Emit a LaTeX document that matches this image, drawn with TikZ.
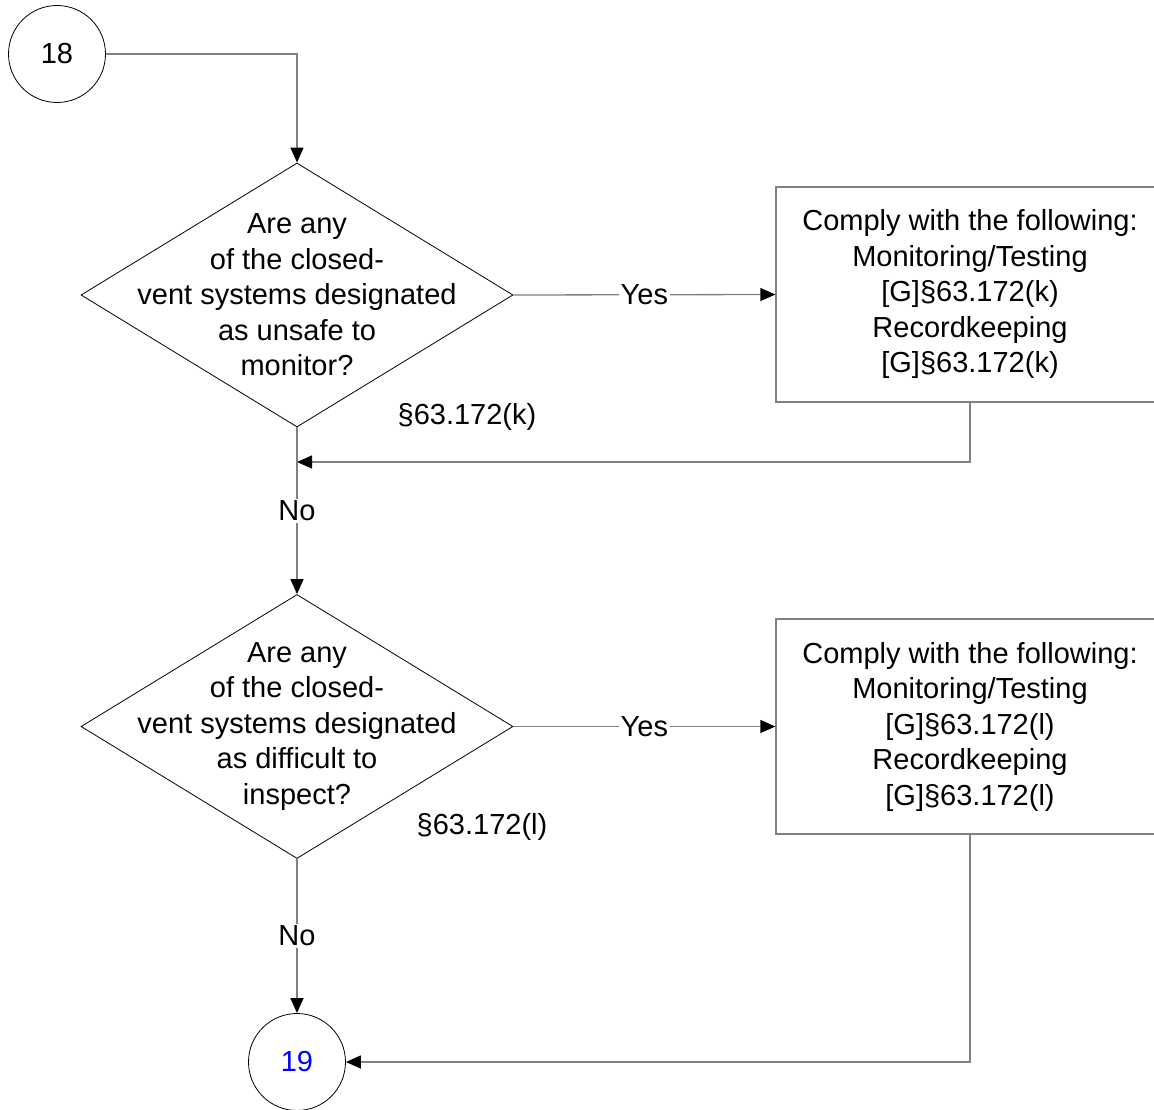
\documentclass[tikz,border=0pt]{standalone}
\usepackage{fontspec}
\setmainfont{Liberation Sans}
\usetikzlibrary{shapes.geometric, arrows.meta, positioning}
\tikzset{
    every node/.style={font=\fontsize{29}{35.5}\selectfont}, % Arial-like text everywhere
    flow/.style={draw=gray, line width=1.3pt, -{Triangle[length=15pt, width=13pt, color=black]}}, % grey connectors, black heads
    decision/.style={diamond, draw, line width=0.8pt, minimum width=432pt, minimum height=264pt, inner sep=0pt}, % the question shape
    action/.style={rectangle, draw=gray, line width=1.3pt, minimum width=388pt, minimum height=215pt, align=center}, % comply boxes
    offpage/.style={circle, draw, line width=0.8pt, minimum size=97pt, inner sep=0pt}, % page connectors
    lbl/.style={fill=white, inner sep=2pt}, % Yes / No on the lines
}

\begin{document}
\begin{tikzpicture}[x=1pt, y=-1pt]
            \useasboundingbox (0,0) rectangle (1154,1110);

            \node[offpage] (c18) at (57,54) {18};

            \node[decision] (q1) at (297,295) {};
            \node[align=center] (t1) at (q1.center) {Are any\\of the closed-\\vent systems designated\\as unsafe to\\monitor?};
            \node[action] (a1) at (970,294.5) {Comply with the following:\\Monitoring/Testing\\{[G]}§63.172(k)\\Recordkeeping\\{[G]}§63.172(k)};
            \node (r1) at (467,417) {§63.172(k)};

            \node[decision] (q2) at (297,726.5) {};
            \node[align=center] (t2) at (q2.center) {Are any\\of the closed-\\vent systems designated\\as difficult to\\inspect?};
            \node[action] (a2) at (970,726.5) {Comply with the following:\\Monitoring/Testing\\{[G]}§63.172(l)\\Recordkeeping\\{[G]}§63.172(l)};
            \node (r2) at (482,827) {§63.172(l)};

            \node[offpage, text=blue] (c19) at (297,1062) {19};

            \coordinate (j1) at (297,462);

            \draw[flow] (c18.east) -| (q1.north);
            \draw[flow] (q1.east) -- node[lbl]{Yes} (a1.west);
            \draw[flow] (a1.south) |- (j1);
            \draw[flow] (q1.south) -- node[lbl]{No} (q2.north);
            \draw[flow] (q2.east) -- node[lbl]{Yes} (a2.west);
            \draw[flow] (a2.south) |- (c19.east);
            \draw[flow] (q2.south) -- node[lbl]{No} (c19.north);
        \end{tikzpicture}
\end{document}
